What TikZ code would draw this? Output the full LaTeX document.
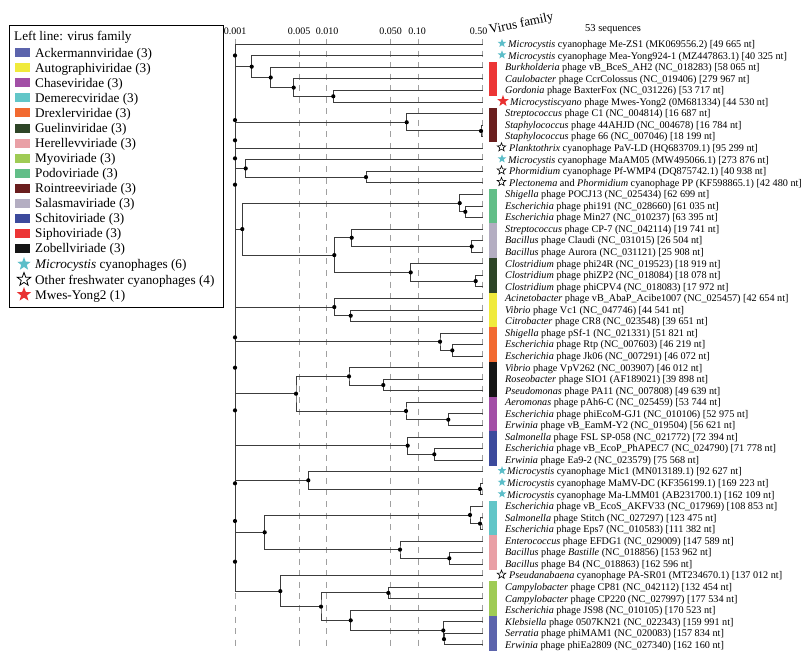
\documentclass[tikz,border=0pt]{standalone}
\usepackage{fontspec}
\setmainfont{Liberation Serif}
\usetikzlibrary{shapes.geometric}
\definecolor{treegray}{HTML}{3C3C3C}
\definecolor{dashgray}{HTML}{A0A0A0}
\definecolor{colAck}{HTML}{5C64AC}
\definecolor{colAuto}{HTML}{F0EA3C}
\definecolor{colChase}{HTML}{A24FA6}
\definecolor{colDem}{HTML}{62C6C8}
\definecolor{colDrex}{HTML}{F26A30}
\definecolor{colGuel}{HTML}{2E4527}
\definecolor{colHer}{HTML}{E9A0A6}
\definecolor{colMyo}{HTML}{9FCB55}
\definecolor{colPodo}{HTML}{62BE88}
\definecolor{colRoin}{HTML}{6A1E1E}
\definecolor{colSal}{HTML}{B4AEC2}
\definecolor{colSchito}{HTML}{3C4A9C}
\definecolor{colSipho}{HTML}{EC3535}
\definecolor{colZob}{HTML}{151515}
\definecolor{colMic}{HTML}{5CBEC9}
\definecolor{colMwes}{HTML}{E83030}
\tikzset{
  tl/.style={draw=treegray,line width=0.9pt},
  dashline/.style={draw=dashgray,line width=0.7pt,dash pattern=on 6pt off 5.55pt},
  dotc/.style={fill=black},
  lab/.style={font=\fontsize{10.2}{11}\selectfont,anchor=base west,inner sep=0pt},
  legt/.style={font=\fontsize{13.2}{15}\selectfont,anchor=base west,inner sep=0pt},
  axl/.style={font=\fontsize{10}{12}\selectfont,anchor=base,inner sep=0pt},
  cstar/.style={star,star points=5,star point ratio=2.4,fill=colMic,draw=none,minimum size=9pt,inner sep=0pt},
  ostar/.style={star,star points=5,star point ratio=2.4,fill=white,draw=black,line width=0.6pt,minimum size=9pt,inner sep=0pt},
  rstar/.style={star,star points=5,star point ratio=2.4,fill=colMwes,draw=none,minimum size=12pt,inner sep=0pt},
}
\newcommand\leaflab[3]{\node[lab] (t#1) at (#2,{47.6+11.55*#1}) {#3};}
\newcommand\fambar[3]{\fill[#1] (489.3,{44.3+11.55*#2-5.775}) rectangle (497.3,{44.3+11.55*#3+5.775});}
\newcommand\legsw[3]{\fill[#2] (15,{52.8+15.05*#1-4.5}) rectangle (30,{52.8+15.05*#1+4.5});
  \node[legt] (lg#1) at (35,{52.8+15.05*#1+4.5}) {#3};}
\begin{document}
\begin{tikzpicture}[x=1pt,y=-1pt]
\fill[white] (0,0) rectangle (810,663);
\useasboundingbox (0,0) rectangle (810,663);

% dashed scale lines
\foreach \xx in {235,299,326.5,390.5,418,482.5} {\draw[dashline] (\xx,39) -- (\xx,651);}
% axis labels
\node[axl] (a1l) at (235,35) {0.001};
\node[axl] (a2l) at (299,35) {0.005};
\node[axl] (a3l) at (327,35) {0.010};
\node[axl] (a4l) at (390.5,35) {0.050};
\node[axl] (a5l) at (417,35) {0.10};
\node[axl] (a6l) at (478.5,35) {0.50};
\node[font=\fontsize{13}{15}\selectfont,anchor=base west,inner sep=0pt,rotate=12] (vf) at (490,34) {Virus family};
\node[font=\fontsize{10.5}{12}\selectfont,anchor=base west,inner sep=0pt] (seq) at (585,32) {53 sequences};

% legend
\draw[black,line width=0.8pt] (9,25) rectangle (223.5,307);
\node[legt] (lgt) at (14,40.5) {Left line: virus family};
\legsw{0}{colAck}{Ackermannviridae (3)}
\legsw{1}{colAuto}{Autographiviridae (3)}
\legsw{2}{colChase}{Chaseviridae (3)}
\legsw{3}{colDem}{Demerecviridae (3)}
\legsw{4}{colDrex}{Drexlerviridae (3)}
\legsw{5}{colGuel}{Guelinviridae (3)}
\legsw{6}{colHer}{Herellevviriade (3)}
\legsw{7}{colMyo}{Myoviriade (3)}
\legsw{8}{colPodo}{Podoviriade (3)}
\legsw{9}{colRoin}{Rointreeviriade (3)}
\legsw{10}{colSal}{Salasmaviriade (3)}
\legsw{11}{colSchito}{Schitoviriade (3)}
\legsw{12}{colSipho}{Siphoviriade (3)}
\legsw{13}{colZob}{Zobellviriade (3)}
\node[cstar,minimum size=14pt] (lgs14) at (24,264) {};
\node[legt] (lg14) at (35,268.5) {\textit{Microcystis} cyanophages (6)};
\node[ostar,minimum size=14pt,line width=0.8pt] (lgs15) at (24,279.5) {};
\node[legt] (lg15) at (35,284) {Other freshwater cyanophages (4)};
\node[rstar,minimum size=15pt] (lgs16) at (24,294.5) {};
\node[legt] (lg16) at (35,299) {Mwes-Yong2 (1)};

% leaves
\foreach \i in {0,...,52} {\coordinate (L\i) at (483,{44.3+11.55*\i});}

% internal nodes
\coordinate (n4) at (333.3,96.28);
\coordinate (n3) at (293.7,87.61);
\coordinate (n2) at (270.7,77.51);
\coordinate (n1) at (251.7,66.68);
\coordinate (r2) at (481,130.93);
\coordinate (r1) at (406.7,122.26);
\coordinate (p2) at (366,177.13);
\coordinate (p1) at (245.7,168.46);
\coordinate (po2) at (465.3,211.78);
\coordinate (po1) at (459.7,203.11);
\coordinate (s2) at (471.7,246.43);
\coordinate (s1) at (351.7,237.76);
\coordinate (g2) at (475.7,281.08);
\coordinate (g1) at (410.7,272.41);
\coordinate (sg) at (334.3,255.09);
\coordinate (psg) at (242.3,229.1);
\coordinate (a2) at (350.7,315.73);
\coordinate (a1) at (334.3,307.06);
\coordinate (d2) at (452.3,350.38);
\coordinate (d1) at (440,341.71);
\coordinate (z2) at (383.3,385.03);
\coordinate (z1) at (349,376.36);
\coordinate (c2) at (448.3,419.68);
\coordinate (c1) at (406,411.01);
\coordinate (zc) at (296,393.69);
\coordinate (sc2) at (434.3,454.33);
\coordinate (sc1) at (407.7,445.66);
\coordinate (m2) at (480,488.98);
\coordinate (m1) at (308.3,480.31);
\coordinate (de2) at (480,523.63);
\coordinate (de1) at (470,514.96);
\coordinate (h2) at (449.3,558.28);
\coordinate (h1) at (400,549.61);
\coordinate (dh) at (264.7,532.29);
\coordinate (my1) at (388.3,592.93);
\coordinate (ak2) at (444,639.13);
\coordinate (ak1) at (443.3,630.46);
\coordinate (myak) at (350.7,620.36);
\coordinate (la2) at (321,606.64);
\coordinate (la1) at (280.3,591.12);
% root ladder
\coordinate (Rt) at (235,44.3);
\coordinate (Rb) at (235,591.12);
\coordinate (T1) at (235,55.49);
\coordinate (T0) at (235,120.1);
\coordinate (T2) at (235,140.31);
\coordinate (T3) at (235,158.36);
\coordinate (T4) at (235,184.7);
\coordinate (B2) at (235,337.38);
\coordinate (B3) at (235,367.7);
\coordinate (B1) at (235,410.36);
\coordinate (B4) at (235,483.33);
\coordinate (B5) at (235,521.0);
\coordinate (B6) at (235,561.7);

% root lines
\draw[tl] (Rt) -- (Rb);
\draw[tl] (Rt) -- (L0);
\draw[tl] (L9 -| Rt) -- (L9);
\foreach \c in {n1,r1,p1,psg,a1,d1,zc,sc1,m1,dh,la1} {\draw[tl] (\c -| Rt) -- (\c);}

% clade edges
\draw[tl] (L1) -| (n1) |- (n2);
\draw[tl] (L2) -| (n2) |- (n3);
\draw[tl] (L3) -| (n3) |- (n4);
\draw[tl] (L4) -| (n4) |- (L5);
\draw[tl] (L6) -| (r1) |- (r2);
\draw[tl] (L7) -| (r2) |- (L8);
\draw[tl] (L10) -| (p1) |- (p2);
\draw[tl] (L11) -| (p2) |- (L12);
\draw[tl] (po1) -| (psg) |- (sg);
\draw[tl] (L13) -| (po1) |- (po2);
\draw[tl] (L14) -| (po2) |- (L15);
\draw[tl] (s1) -| (sg) |- (g1);
\draw[tl] (L16) -| (s1) |- (s2);
\draw[tl] (L17) -| (s2) |- (L18);
\draw[tl] (L19) -| (g1) |- (g2);
\draw[tl] (L20) -| (g2) |- (L21);
\draw[tl] (L22) -| (a1) |- (a2);
\draw[tl] (L23) -| (a2) |- (L24);
\draw[tl] (L25) -| (d1) |- (d2);
\draw[tl] (L26) -| (d2) |- (L27);
\draw[tl] (z1) -| (zc) |- (c1);
\draw[tl] (L28) -| (z1) |- (z2);
\draw[tl] (L29) -| (z2) |- (L30);
\draw[tl] (L31) -| (c1) |- (c2);
\draw[tl] (L32) -| (c2) |- (L33);
\draw[tl] (L34) -| (sc1) |- (sc2);
\draw[tl] (L35) -| (sc2) |- (L36);
\draw[tl] (L37) -| (m1) |- (m2);
\draw[tl] (L38) -| (m2) |- (L39);
\draw[tl] (de1) -| (dh) |- (h1);
\draw[tl] (L40) -| (de1) |- (de2);
\draw[tl] (L41) -| (de2) |- (L42);
\draw[tl] (L43) -| (h1) |- (h2);
\draw[tl] (L44) -| (h2) |- (L45);
\draw[tl] (L46) -| (la1) |- (la2);
\draw[tl] (my1) -| (la2) |- (myak);
\draw[tl] (L47) -| (my1) |- (L48);
\draw[tl] (L49) -| (myak) |- (ak1);
\draw[tl] (L50) -| (ak1) |- (ak2);
\draw[tl] (L51) -| (ak2) |- (L52);

% dots
\foreach \n in {n1,n2,n3,n4,r1,r2,p1,p2,po1,po2,s1,s2,g1,g2,sg,psg,a1,a2,d1,d2,z1,z2,c1,c2,zc,sc1,sc2,m1,m2,de1,de2,h1,h2,dh,my1,ak1,ak2,myak,la1,la2,T0,T1,T2,T3,T4,B1,B2,B3,B4,B5,B6}
  {\fill[dotc] (\n) circle[radius=2.1pt];}

% family bars
\fambar{colSipho}{2}{4}
\fambar{colRoin}{6}{8}
\fambar{colPodo}{13}{15}
\fambar{colSal}{16}{18}
\fambar{colGuel}{19}{21}
\fambar{colAuto}{22}{24}
\fambar{colDrex}{25}{27}
\fambar{colZob}{28}{30}
\fambar{colChase}{31}{33}
\fambar{colSchito}{34}{36}
\fambar{colDem}{40}{42}
\fambar{colHer}{43}{45}
\fambar{colMyo}{47}{49}
\fambar{colAck}{50}{52}

% stars
\foreach \i in {0,1,10,37,38,39} {\node[cstar] (stc\i) at (502,{43.3+11.55*\i}) {};}
\foreach \i in {9,11,12,46} {\node[ostar] (sto\i) at (501.5,{43.3+11.55*\i}) {};}
\node[rstar] (str5) at (503,{43.3+11.55*5}) {};

% leaf labels
\leaflab{0}{508}{\textit{Microcystis} cyanophage Me-ZS1 (MK069556.2) [49 665 nt]}
\leaflab{1}{508}{\textit{Microcystis} cyanophage Mea-Yong924-1 (MZ447863.1) [40 325 nt]}
\leaflab{2}{505}{\textit{Burkholderia} phage vB\_BceS\_AH2 (NC\_018283) [58 065 nt]}
\leaflab{3}{505}{\textit{Caulobacter} phage CcrColossus (NC\_019406) [279 967 nt]}
\leaflab{4}{505}{\textit{Gordonia} phage BaxterFox (NC\_031226) [53 717 nt]}
\leaflab{5}{510}{\textit{Microcystiscyano} phage Mwes-Yong2 (0M681334) [44 530 nt]}
\leaflab{6}{505}{\textit{Streptococcus} phage C1 (NC\_004814) [16 687 nt]}
\leaflab{7}{505}{\textit{Staphylococcus} phage 44AHJD (NC\_004678) [16 784 nt]}
\leaflab{8}{505}{\textit{Staphylococcus} phage 66 (NC\_007046) [18 199 nt]}
\leaflab{9}{509}{\textit{Planktothrix} cyanophage PaV-LD (HQ683709.1) [95 299 nt]}
\leaflab{10}{508}{\textit{Microcystis} cyanophage MaAM05 (MW495066.1) [273 876 nt]}
\leaflab{11}{509}{\textit{Phormidium} cyanophage Pf-WMP4 (DQ875742.1) [40 938 nt]}
\leaflab{12}{509}{\textit{Plectonema} and \textit{Phormidium} cyanophage PP (KF598865.1) [42 480 nt]}
\leaflab{13}{505}{\textit{Shigella} phage POCJ13 (NC\_025434) [62 699 nt]}
\leaflab{14}{505}{\textit{Escherichia} phage phi191 (NC\_028660) [61 035 nt]}
\leaflab{15}{505}{\textit{Escherichia} phage Min27 (NC\_010237) [63 395 nt]}
\leaflab{16}{505}{\textit{Streptococcus} phage CP-7 (NC\_042114) [19 741 nt]}
\leaflab{17}{505}{\textit{Bacillus} phage Claudi (NC\_031015) [26 504 nt]}
\leaflab{18}{505}{\textit{Bacillus} phage Aurora (NC\_031121) [25 908 nt]}
\leaflab{19}{505}{\textit{Clostridium} phage phi24R (NC\_019523) [18 919 nt]}
\leaflab{20}{505}{\textit{Clostridium} phage phiZP2 (NC\_018084) [18 078 nt]}
\leaflab{21}{505}{\textit{Clostridium} phage phiCPV4 (NC\_018083) [17 972 nt]}
\leaflab{22}{505}{\textit{Acinetobacter} phage vB\_AbaP\_Acibe1007 (NC\_025457) [42 654 nt]}
\leaflab{23}{505}{\textit{Vibrio} phage Vc1 (NC\_047746) [44 541 nt]}
\leaflab{24}{505}{\textit{Citrobacter} phage CR8 (NC\_023548) [39 651 nt]}
\leaflab{25}{505}{\textit{Shigella} phage pSf-1 (NC\_021331) [51 821 nt]}
\leaflab{26}{505}{\textit{Escherichia} phage Rtp (NC\_007603) [46 219 nt]}
\leaflab{27}{505}{\textit{Escherichia} phage Jk06 (NC\_007291) [46 072 nt]}
\leaflab{28}{505}{\textit{Vibrio} phage VpV262 (NC\_003907) [46 012 nt]}
\leaflab{29}{505}{\textit{Roseobacter} phage SIO1 (AF189021) [39 898 nt]}
\leaflab{30}{505}{\textit{Pseudomonas} phage PA11 (NC\_007808) [49 639 nt]}
\leaflab{31}{505}{\textit{Aeromonas} phage pAh6-C (NC\_025459) [53 744 nt]}
\leaflab{32}{505}{\textit{Escherichia} phage phiEcoM-GJ1 (NC\_010106) [52 975 nt]}
\leaflab{33}{505}{\textit{Erwinia} phage vB\_EamM-Y2 (NC\_019504) [56 621 nt]}
\leaflab{34}{505}{\textit{Salmonella} phage FSL SP-058 (NC\_021772) [72 394 nt]}
\leaflab{35}{505}{\textit{Escherichia} phage vB\_EcoP\_PhAPEC7 (NC\_024790) [71 778 nt]}
\leaflab{36}{505}{\textit{Erwinia} phage Ea9-2 (NC\_023579) [75 568 nt]}
\leaflab{37}{507}{\textit{Microcystis} cyanophage Mic1 (MN013189.1) [92 627 nt]}
\leaflab{38}{507}{\textit{Microcystis} cyanophage MaMV-DC (KF356199.1) [169 223 nt]}
\leaflab{39}{507}{\textit{Microcystis} cyanophage Ma-LMM01 (AB231700.1) [162 109 nt]}
\leaflab{40}{505}{\textit{Escherichia} phage vB\_EcoS\_AKFV33 (NC\_017969) [108 853 nt]}
\leaflab{41}{505}{\textit{Salmonella} phage Stitch (NC\_027297) [123 475 nt]}
\leaflab{42}{505}{\textit{Escherichia} phage Eps7 (NC\_010583) [111 382 nt]}
\leaflab{43}{505}{\textit{Enterococcus} phage EFDG1 (NC\_029009) [147 589 nt]}
\leaflab{44}{505}{\textit{Bacillus} phage \textit{Bastille} (NC\_018856) [153 962 nt]}
\leaflab{45}{505}{\textit{Bacillus} phage B4 (NC\_018863) [162 596 nt]}
\leaflab{46}{509}{\textit{Pseudanabaena} cyanophage PA-SR01 (MT234670.1) [137 012 nt]}
\leaflab{47}{505}{\textit{Campylobacter} phage CP81 (NC\_042112) [132 454 nt]}
\leaflab{48}{505}{\textit{Campylobacter} phage CP220 (NC\_027997) [177 534 nt]}
\leaflab{49}{505}{\textit{Escherichia} phage JS98 (NC\_010105) [170 523 nt]}
\leaflab{50}{505}{\textit{Klebsiella} phage 0507KN21 (NC\_022343) [159 991 nt]}
\leaflab{51}{505}{\textit{Serratia} phage phiMAM1 (NC\_020083) [157 834 nt]}
\leaflab{52}{505}{\textit{Erwinia} phage phiEa2809 (NC\_027340) [162 160 nt]}
\end{tikzpicture}
\end{document}
